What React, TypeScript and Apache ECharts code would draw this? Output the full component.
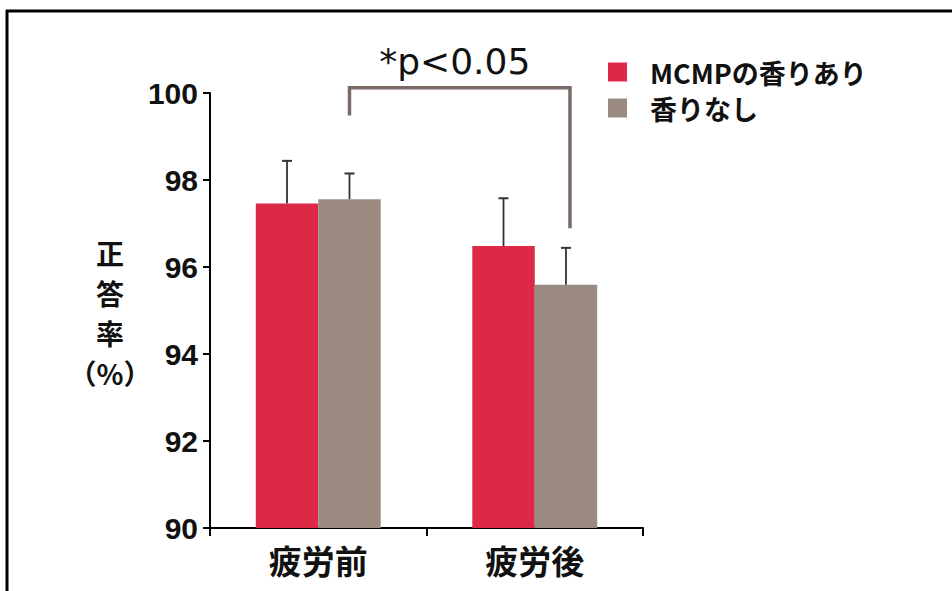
import { useEffect, useRef } from 'react';
import * as echarts from 'echarts';

// Mean correct-answer rate (%) before / after fatigue, with and without the MCMP aroma
const categories = ['疲労前', '疲労後'];
const seriesNames = ['MCMPの香りあり', '香りなし'];
const withAroma = [97.46, 96.48];
const withAromaErrTop = [98.44, 97.58];
const noAroma = [97.56, 95.59];
const noAromaErrTop = [98.15, 96.44];
const yMin = 90;
const yMax = 100;
const yInterval = 2;
// significance bracket: left foot, top bar, right foot (axis units)
const bracketLevels = [99.48, 100.12, 96.89];
const sigLabel = '*p<0.05';
const yAxisTitle = '正\n答\n率\n（%）';

const RED = '#dd2948';
const GRAY = '#9b8a80';
const BAR_RATIO = 0.2885;

function errorBarSeries(values: number[], tops: number[], sign: number) {
  return {
    type: 'custom',
    silent: true,
    z: 5,
    clip: false,
    data: values.map((v, i) => [i, v, tops[i]]),
    renderItem: (params: any, api: any) => {
      const base = api.coord([api.value(0), api.value(1)]);
      const top = api.coord([api.value(0), api.value(2)]);
      const band = api.size([1, 0])[0];
      const cx = base[0] + (sign * band * BAR_RATIO) / 2;
      const cap = 5;
      return {
        type: 'group',
        children: [
          {
            type: 'line',
            shape: { x1: cx, y1: base[1], x2: cx, y2: top[1] },
            style: { stroke: '#333', lineWidth: 1.8 },
          },
          {
            type: 'line',
            shape: { x1: cx - cap, y1: top[1], x2: cx + cap, y2: top[1] },
            style: { stroke: '#333', lineWidth: 2 },
          },
        ],
      };
    },
  };
}

export default function App() {
  const ref = useRef<HTMLDivElement>(null);

  useEffect(() => {
    if (!ref.current) return;
    const chart = echarts.init(ref.current, undefined, { renderer: 'svg' });
    chart.setOption({
      animation: false,
      backgroundColor: '#ffffff',
      grid: { left: 210, right: 309, top: 93, bottom: 63 },
      legend: {
        orient: 'vertical',
        left: 603,
        top: 53,
        itemWidth: 19,
        itemHeight: 19,
        itemGap: 8,
        icon: 'rect',
        data: seriesNames,
        textStyle: {
          fontSize: 27,
          fontWeight: 'bold',
          color: '#111',
          fontFamily: '"Noto Sans CJK JP", sans-serif',
          lineHeight: 28,
          padding: [0, 0, 0, 18],
        },
      },
      xAxis: {
        type: 'category',
        data: categories,
        axisLine: { lineStyle: { color: '#000', width: 2 } },
        axisTick: { show: true, length: 8, lineStyle: { color: '#000', width: 2 } },
        axisLabel: {
          fontSize: 33,
          fontWeight: 'bold',
          color: '#111',
          margin: 15,
          fontFamily: '"Noto Sans CJK JP", sans-serif',
        },
      },
      yAxis: {
        type: 'value',
        min: yMin,
        max: yMax,
        interval: yInterval,
        splitLine: { show: false },
        axisLine: { show: true, lineStyle: { color: '#000', width: 2 } },
        axisTick: { show: true, length: 7, lineStyle: { color: '#000', width: 2 } },
        axisLabel: {
          fontSize: 30,
          fontWeight: 'bold',
          color: '#111',
          margin: 12,
          fontFamily: '"Liberation Sans", Arial, sans-serif',
        },
      },
      graphic: [
        {
          type: 'line',
          shape: { x1: 6, y1: 11, x2: 952, y2: 11 },
          style: { stroke: '#000', lineWidth: 3 },
        },
        {
          type: 'line',
          shape: { x1: 7, y1: 10, x2: 7, y2: 591 },
          style: { stroke: '#000', lineWidth: 3 },
        },
        {
          type: 'text',
          x: 110,
          y: 313,
          style: {
            text: yAxisTitle,
            align: 'center',
            verticalAlign: 'middle',
            fontSize: 28,
            fontWeight: 'bold',
            lineHeight: 40,
            fill: '#111',
            fontFamily: '"Noto Sans CJK JP", sans-serif',
          },
        },
      ],
      series: [
        {
          name: seriesNames[0],
          type: 'bar',
          data: withAroma,
          barWidth: (BAR_RATIO * 100).toFixed(2) + '%',
          barGap: '0%',
          itemStyle: { color: RED },
        },
        {
          name: seriesNames[1],
          type: 'bar',
          data: noAroma,
          barWidth: (BAR_RATIO * 100).toFixed(2) + '%',
          barGap: '0%',
          itemStyle: { color: GRAY },
        },
        errorBarSeries(withAroma, withAromaErrTop, -1),
        errorBarSeries(noAroma, noAromaErrTop, 1),
        {
          type: 'custom',
          silent: true,
          clip: false,
          z: 6,
          data: [[0]],
          renderItem: (params: any, api: any) => {
            const band = api.size([1, 0])[0];
            const off = (band * BAR_RATIO) / 2;
            const l0 = api.coord([0, bracketLevels[0]]);
            const l1 = api.coord([0, bracketLevels[1]]);
            const r1 = api.coord([1, bracketLevels[1]]);
            const r2 = api.coord([1, bracketLevels[2]]);
            const xl = l0[0] + off;
            const xr = r1[0] + off + 4;
            return {
              type: 'group',
              children: [
                {
                  type: 'polyline',
                  shape: {
                    points: [
                      [xl, l0[1]],
                      [xl, l1[1]],
                      [xr, r1[1]],
                      [xr, r2[1]],
                    ],
                  },
                  style: { stroke: '#7a6b66', lineWidth: 3.5, fill: 'none' },
                },
                {
                  type: 'text',
                  x: (xl + xr) / 2 - 5,
                  y: l1[1] - 8,
                  style: {
                    text: sigLabel,
                    align: 'center',
                    verticalAlign: 'bottom',
                    fontSize: 36,
                    fill: '#111',
                    fontFamily: '"DejaVu Sans", sans-serif',
                  },
                },
              ],
            };
          },
        },
      ],
    });
    return () => chart.dispose();
  }, []);

  return (
    <div
      ref={ref}
      style={{ position: 'fixed', left: 0, top: 0, width: 952, height: 591 }}
    />
  );
}
